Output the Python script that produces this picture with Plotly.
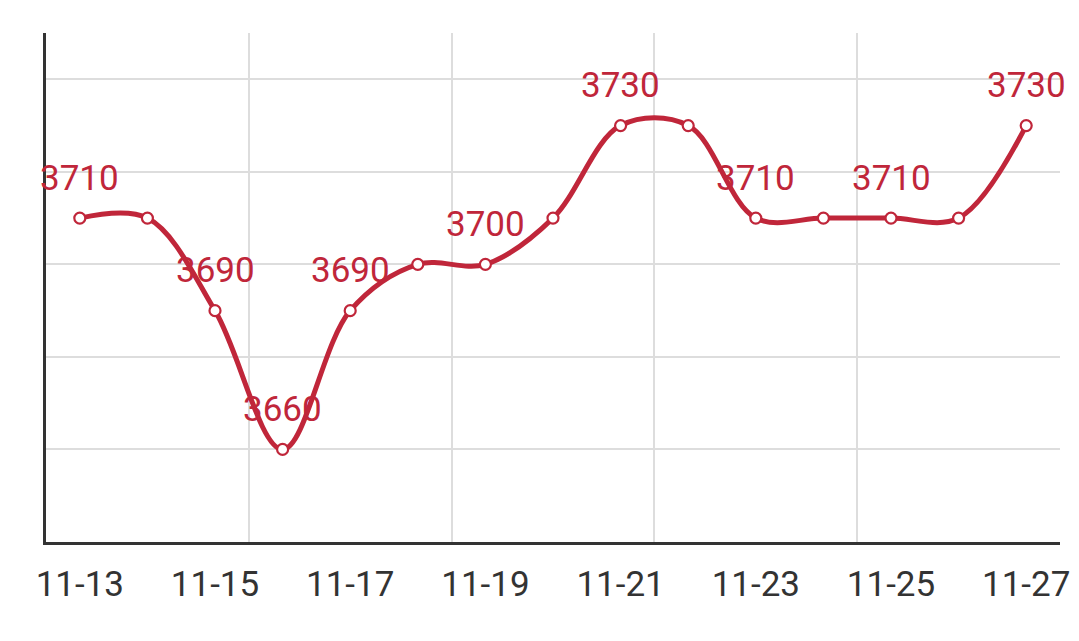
import plotly.graph_objects as go

dates = ["11-13", "11-14", "11-15", "11-16", "11-17", "11-18", "11-19", "11-20",
         "11-21", "11-22", "11-23", "11-24", "11-25", "11-26", "11-27"]
prices = [3710, 3710, 3690, 3660, 3690, 3700, 3700, 3710,
          3730, 3730, 3710, 3710, 3710, 3710, 3730]
labeled_idx = [0, 2, 3, 4, 6, 8, 10, 12, 14]
tick_idx = [0, 2, 4, 6, 8, 10, 12, 14]

RED = "#c0263a"
xs = list(range(len(dates)))

fig = go.Figure()
fig.add_trace(go.Scatter(
    x=xs, y=prices, mode="lines+markers",
    line=dict(color=RED, width=5, shape="spline", smoothing=1.0),
    marker=dict(size=11, color="white", line=dict(color=RED, width=2.2)),
    hoverinfo="skip", showlegend=False,
))

for i in labeled_idx:
    fig.add_annotation(x=xs[i], y=prices[i], text=str(prices[i]),
                       showarrow=False, yshift=40,
                       font=dict(family="Roboto", size=35, color=RED))

fig.update_layout(
    width=1079, height=641,
    margin=dict(l=38, r=27, t=25, b=107),
    paper_bgcolor="white", plot_bgcolor="white",
    font=dict(family="Roboto"),
)
fig.update_xaxes(
    range=[-0.5, 14.5], tickmode="array", tickvals=tick_idx,
    ticktext=[dates[i] for i in tick_idx],
    showgrid=False, showline=True, linecolor="#333333", linewidth=2.5,
    ticks="", ticklabelstandoff=9,
    tickfont=dict(family="Roboto", size=35, color="#333333"),
    minor=dict(tickmode="linear", tick0=-0.5, dtick=3, showgrid=True,
               gridcolor="#dddddd", gridwidth=2, ticks=""),
    zeroline=False,
)
fig.update_yaxes(
    range=[3640, 3750], tickmode="array",
    tickvals=[3660, 3680, 3700, 3720, 3740, 3750],
    showticklabels=False, showgrid=True, gridcolor="#dddddd", gridwidth=2,
    showline=True, linecolor="#333333", linewidth=2.5, zeroline=False,
)

fig.write_html("out.html")
